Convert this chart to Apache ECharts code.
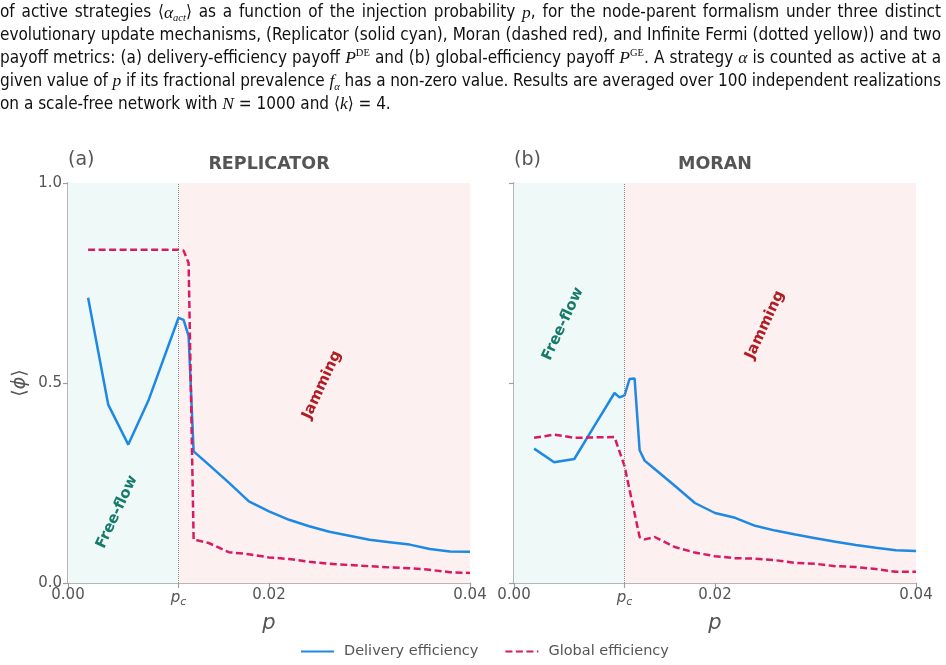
<!DOCTYPE html>
<html>
<head>
<meta charset="utf-8">
<script src="https://cdn.jsdelivr.net/npm/echarts@6/dist/echarts.min.js"></script>
<style>
  html, body { margin: 0; padding: 0; background: #fff; }
  #chart { width: 946px; height: 665px; }
</style>
</head>
<body>
<div id="chart"></div>
<script>
// critical injection probability (dotted line)
const pc = 0.011
const xTickValues = [0, pc, 0.02, 0.04]

// (a) Replicator
const repDeliveryX = [0.002, 0.004, 0.006, 0.008, 0.011, 0.0115, 0.012, 0.0125, 0.014, 0.016, 0.018, 0.020, 0.022, 0.024, 0.026, 0.028, 0.030, 0.032, 0.034, 0.036, 0.038, 0.040]
const repDelivery = [0.713, 0.446, 0.346, 0.456, 0.663, 0.658, 0.618, 0.329, 0.296, 0.251, 0.204, 0.179, 0.158, 0.142, 0.128, 0.118, 0.108, 0.102, 0.096, 0.085, 0.079, 0.078]
const repGlobalX = [0.002, 0.004, 0.006, 0.008, 0.010, 0.011, 0.0115, 0.012, 0.0125, 0.013, 0.014, 0.016, 0.018, 0.020, 0.022, 0.024, 0.026, 0.028, 0.030, 0.032, 0.034, 0.036, 0.038, 0.040]
const repGlobal = [0.833, 0.833, 0.833, 0.833, 0.833, 0.833, 0.831, 0.800, 0.108, 0.106, 0.100, 0.077, 0.072, 0.064, 0.060, 0.053, 0.048, 0.045, 0.042, 0.039, 0.037, 0.033, 0.027, 0.025]

// (b) Moran
const morDeliveryX = [0.002, 0.004, 0.006, 0.008, 0.010, 0.0105, 0.011, 0.0115, 0.012, 0.0125, 0.013, 0.014, 0.016, 0.018, 0.020, 0.022, 0.024, 0.026, 0.028, 0.030, 0.032, 0.034, 0.036, 0.038, 0.040]
const morDelivery = [0.336, 0.302, 0.310, 0.393, 0.475, 0.464, 0.469, 0.510, 0.511, 0.332, 0.306, 0.285, 0.243, 0.200, 0.175, 0.163, 0.143, 0.131, 0.121, 0.112, 0.103, 0.095, 0.088, 0.082, 0.080]
const morGlobalX = [0.002, 0.004, 0.006, 0.008, 0.010, 0.011, 0.0125, 0.013, 0.014, 0.016, 0.018, 0.020, 0.022, 0.024, 0.026, 0.028, 0.030, 0.032, 0.034, 0.036, 0.038, 0.040]
const morGlobal = [0.363, 0.371, 0.363, 0.364, 0.365, 0.292, 0.115, 0.109, 0.115, 0.090, 0.076, 0.067, 0.062, 0.061, 0.057, 0.050, 0.048, 0.042, 0.040, 0.035, 0.028, 0.028]

const panelTitles = ['REPLICATOR', 'MORAN']
const panelTags = ['(a)', '(b)']

const BLUE = '#1e88e5'
const RED = '#d81b60'
const GREY = '#555555'
const AXIS = '#9e9e9e'
const FONT = 'DejaVu Sans'
const CAPFONT = "'Liberation Sans Narrow', 'DejaVu Sans Condensed', sans-serif"

function pairs(xs, ys) {
  return xs.map((x, i) => [x, ys[i]])
}

function makeXAxis(gridIndex) {
  return {
    type: 'value',
    gridIndex: gridIndex,
    min: 0,
    max: 0.04,
    name: 'p',
    nameLocation: 'middle',
    nameGap: 28,
    nameTextStyle: { fontFamily: FONT, fontStyle: 'italic', fontSize: 21, color: GREY },
    axisLine: { lineStyle: { color: AXIS, width: 1.5 } },
    axisTick: { customValues: xTickValues, length: 5, lineStyle: { color: AXIS, width: 1.2 } },
    axisLabel: {
      customValues: xTickValues,
      margin: 5,
      fontFamily: FONT,
      fontSize: 15,
      color: GREY,
      formatter: v => Math.abs(v - pc) < 1e-9 ? '{p|p}{c|c}' : v.toFixed(2),
      rich: {
        p: { fontFamily: FONT, fontStyle: 'italic', fontSize: 15, color: GREY, lineHeight: 20 },
        c: { fontFamily: FONT, fontStyle: 'italic', fontSize: 11, color: GREY, lineHeight: 14, verticalAlign: 'bottom' }
      }
    },
    splitLine: { show: false }
  }
}

function makeYAxis(gridIndex, showLabels) {
  return {
    type: 'value',
    gridIndex: gridIndex,
    min: 0,
    max: 1,
    interval: 0.5,
    name: showLabels ? '⟨{i|ϕ}⟩' : '',
    nameLocation: 'middle',
    nameGap: 38,
    nameRotate: 90,
    nameTextStyle: {
      fontFamily: FONT, fontSize: 19, color: GREY,
      rich: { i: { fontFamily: FONT, fontStyle: 'italic', fontSize: 19, color: GREY } }
    },
    axisLine: { show: true, lineStyle: { color: AXIS, width: 1.5 } },
    axisTick: { show: true, length: 5, lineStyle: { color: AXIS, width: 1.2 } },
    axisLabel: {
      show: showLabels,
      margin: 6,
      fontFamily: FONT,
      fontSize: 15,
      color: GREY,
      formatter: v => v.toFixed(1)
    },
    splitLine: { show: false }
  }
}

function regions() {
  return {
    silent: true,
    data: [
      [{ xAxis: 0, itemStyle: { color: '#eff9f8' } }, { xAxis: pc }],
      [{ xAxis: pc, itemStyle: { color: '#fcf0f0' } }, { xAxis: 0.04 }]
    ]
  }
}

function pcLine() {
  return {
    silent: true,
    symbol: 'none',
    precision: 6,
    label: { show: false },
    lineStyle: { color: '#8a8a8a', type: 'dotted', width: 1 },
    data: [{ xAxis: pc }]
  }
}

function deliverySeries(idx, xs, ys) {
  return {
    name: 'Delivery efficiency',
    type: 'line',
    xAxisIndex: idx,
    yAxisIndex: idx,
    data: pairs(xs, ys),
    symbol: 'none',
    lineStyle: { color: BLUE, width: 2.5 },
    itemStyle: { color: BLUE },
    markArea: regions(),
    markLine: pcLine(),
    z: 3
  }
}

function globalSeries(idx, xs, ys) {
  return {
    name: 'Global efficiency',
    type: 'line',
    xAxisIndex: idx,
    yAxisIndex: idx,
    data: pairs(xs, ys),
    symbol: 'none',
    lineStyle: { color: RED, width: 2.5, type: [7, 3.5] },
    itemStyle: { color: RED },
    z: 4
  }
}

// caption lines (first line of the caption is cut off in the source)
const m = { fontFamily: 'Liberation Serif', fontStyle: 'italic', fontSize: 17.5, fill: '#111', lineHeight: 22 }
const sub = { fontFamily: 'Liberation Serif', fontStyle: 'italic', fontSize: 10.5, fill: '#111', lineHeight: 20, verticalAlign: 'bottom' }
const sup = { fontFamily: 'Liberation Serif', fontSize: 10.5, fill: '#111', lineHeight: 20, verticalAlign: 'top' }
const capRich = { m: m, sub: sub, sup: sup }
const captionLines = [
  'of active strategies ⟨{m|α}{sub|act}⟩ as a function of the injection probability {m|p}, for the node-parent formalism under three distinct',
  'evolutionary update mechanisms, (Replicator (solid cyan), Moran (dashed red), and Infinite Fermi (dotted yellow)) and two',
  'payoff metrics: (a) delivery-efficiency payoff {m|P}{sup|DE} and (b) global-efficiency payoff {m|P}{sup|GE}. A strategy {m|α} is counted as active at a',
  'given value of {m|p} if its fractional prevalence {m|f}{sub|α} has a non-zero value. Results are averaged over 100 independent realizations',
  'on a scale-free network with {m|N} = 1000 and ⟨{m|k}⟩ = 4.'
]
const CAP_WIDTH = 941
const CAP_SIZE = 17

function capStyle(text) {
  return { text: text, fontFamily: CAPFONT, fontSize: CAP_SIZE, fill: '#111', lineHeight: 22, rich: capRich }
}

function textWidth(text) {
  return new echarts.graphic.Text({ style: capStyle(text) }).getBoundingRect().width
}

const graphics = []
captionLines.forEach((line, i) => {
  const top = 2 + i * 22.8
  if (i === captionLines.length - 1) {
    graphics.push({ type: 'text', x: 0, y: top, style: capStyle(line) })
    return
  }
  // justify: spread the words over the full text width
  const words = line.split(' ')
  const widths = words.map(textWidth)
  const total = widths.reduce((a, b) => a + b, 0)
  const gap = (CAP_WIDTH - total) / (words.length - 1)
  let x = 0
  words.forEach((w, k) => {
    graphics.push({ type: 'text', x: x, y: top, style: capStyle(w) })
    x += widths[k] + gap
  })
})

const panelX = [68, 514]
panelX.forEach((x0, i) => {
  graphics.push({
    type: 'text', x: x0, y: 160,
    style: { text: panelTags[i], fontFamily: FONT, fontSize: 19, fill: GREY, align: 'left', verticalAlign: 'middle' }
  })
  graphics.push({
    type: 'text', x: x0 + 201, y: 164,
    style: { text: panelTitles[i], fontFamily: FONT, fontWeight: 'bold', fontSize: 17.5, fill: GREY, align: 'center', verticalAlign: 'middle' }
  })
})

// phase annotations
const phaseLabels = [
  { text: 'Free-flow', x: 117, y: 512, color: '#187a68' },
  { text: 'Jamming', x: 322, y: 385, color: '#b01c22' },
  { text: 'Free-flow', x: 563, y: 324, color: '#187a68' },
  { text: 'Jamming', x: 765, y: 325, color: '#b01c22' }
]
phaseLabels.forEach(l => {
  graphics.push({
    type: 'text', x: l.x, y: l.y, rotation: 65 * Math.PI / 180, z: 10,
    style: { text: l.text, fontFamily: FONT, fontWeight: 'bold', fontSize: 15, fill: l.color, align: 'center', verticalAlign: 'middle' }
  })
})

const chart = echarts.init(document.getElementById('chart'), null, { renderer: 'canvas' })

const option = {
  backgroundColor: '#ffffff',
  animation: false,
  textStyle: { fontFamily: FONT },
  grid: [
    { left: 68, top: 183, width: 402, height: 400 },
    { left: 514, top: 183, width: 402, height: 400 }
  ],
  xAxis: [makeXAxis(0), makeXAxis(1)],
  yAxis: [makeYAxis(0, true), makeYAxis(1, false)],
  legend: {
    data: ['Delivery efficiency', 'Global efficiency'],
    left: 295,
    top: 639,
    itemWidth: 33,
    itemHeight: 14,
    itemGap: 26,
    itemStyle: { opacity: 0 },
    textStyle: { fontFamily: FONT, fontSize: 14.5, color: GREY, padding: [0, 0, 0, 5] }
  },
  graphic: graphics,
  series: [
    deliverySeries(0, repDeliveryX, repDelivery),
    globalSeries(0, repGlobalX, repGlobal),
    deliverySeries(1, morDeliveryX, morDelivery),
    globalSeries(1, morGlobalX, morGlobal)
  ]
}

chart.setOption(option)
</script>
</body>
</html>
